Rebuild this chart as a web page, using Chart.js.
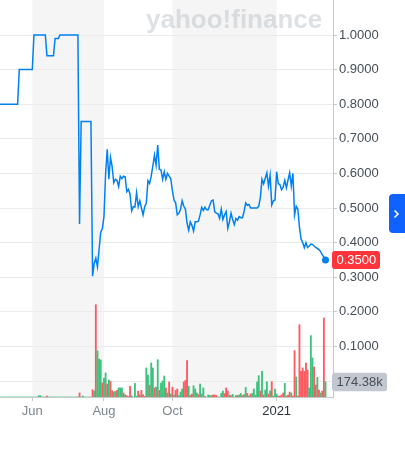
<!DOCTYPE html>
<html><head><meta charset="utf-8">
<script src="https://cdn.jsdelivr.net/npm/chart.js@4"></script>
<style>
html,body{margin:0;padding:0;background:#fff;}
#wrap{position:relative;width:405px;height:450px;}
#btn{position:absolute;left:389px;top:194px;width:16px;height:39px;background:#0f62fe;border-radius:4px 0 0 4px;}
</style></head><body>
<div id="wrap"><canvas id="c" width="405" height="450"></canvas>
<div id="btn"><svg width="16" height="39"><polyline points="5.5,16.5 9,20 5.5,23.5" fill="none" stroke="#fff" stroke-width="1.6"/></svg></div></div>
<script>
// Daily closing price (trading days, ~May 1 2020 .. Feb 17 2021)
const price = [
0.80,0.80,0.80,0.80,0.80,0.80,0.80,0.80,0.80,0.80,0.80,0.80,
0.90,0.90,0.90,0.90,0.90,0.90,0.90,0.90,0.90,
1.00,1.00,1.00,1.00,1.00,1.00,1.00,1.00,
0.94,0.94,0.94,0.94,0.94,
0.99,0.99,0.99,
1.00,1.00,1.00,1.00,1.00,1.00,1.00,1.00,1.00,1.00,1.00,1.00,
0.454,
0.75,0.75,0.75,0.75,0.75,0.75,0.75,
0.303,0.34,0.355,0.33,0.38,0.43,0.44,0.475,0.60,0.67,
0.583,0.646,0.62,0.573,0.583,0.58,0.562,0.592,0.585,0.592,
0.59,0.547,0.554,0.54,0.492,0.504,0.503,0.544,0.504,0.521,
0.50,0.48,0.504,0.514,0.579,0.571,0.592,0.621,0.653,0.624,
0.682,0.612,0.61,0.583,0.605,0.583,0.60,0.592,0.585,0.55,
0.523,0.515,0.48,0.485,0.496,0.521,0.505,0.497,0.456,0.436,
0.46,0.45,0.433,0.46,0.46,0.462,0.48,0.502,0.493,0.502,
0.495,0.495,0.509,0.521,0.523,0.489,0.485,0.483,0.47,0.497,
0.467,0.48,0.49,0.441,0.46,0.485,0.467,0.452,0.47,0.465,
0.475,0.472,0.472,0.49,0.515,0.508,0.51,0.50,0.50,0.50,
0.50,0.50,0.505,0.53,0.583,0.57,0.586,0.602,0.563,0.595,
0.509,0.521,0.523,0.605,0.57,0.568,0.553,0.56,0.58,0.558,
0.581,0.602,0.563,0.60,0.48,0.505,0.497,0.445,0.41,0.40,
0.385,0.40,0.386,0.39,0.396,0.395,0.39,0.386,0.383,0.38,
0.374,0.365,0.358,0.35
];
// Daily volume, thousands of shares
const volume = [
0,0,0,0,0,0,0,0,0,0,
0,0,0,0,0,0,0,0,0,0,
0,0,0,0,15,15,0,0,0,11,
0,0,0,0,0,0,0,0,0,0,
0,0,0,0,0,0,0,0,0,46,
0,11,0,0,0,0,0,83,68,1052,
528,433,422,160,217,274,148,194,178,72,
60,64,75,103,103,103,46,26,15,5,
121,15,0,155,10,68,26,75,26,8,
331,251,137,388,331,103,114,425,75,160,
182,239,103,46,171,34,114,23,75,91,
15,57,91,171,189,414,121,18,34,129,
91,46,29,148,34,103,6,0,23,17,
17,23,23,17,0,0,40,68,40,103,
68,23,17,29,0,17,17,23,40,17,
29,109,41,11,34,40,91,23,171,243,
68,292,23,80,174,34,68,174,11,91,
34,11,11,23,46,155,11,23,57,46,
11,528,228,11,824,292,331,292,388,308,
103,699,445,342,137,223,80,46,68,901,
174.38
];
// u = up day (green), d = down day (red)
const volumeDirection = (
'uuuuuuuuuu uuuuuuuuuu uuuuuuuuud uuuuuuuuuu uuuuuuuuud ' +
'uuuuuuudud uuuduududd uuduuududd duuuududdd uuduuduudu ' +
'uududududd uuuddduddu uuduuuduuu uddduuuudd duduuuduud ' +
'uududuuuuu duduududuu uddddudddu dduddddddd uuuddududd u'
).replace(/ /g,'').split('');

// x-axis month labels at trading-day index
const xTickIndex = [20, 64, 106, 170];
const xTickLabels = ['Jun', 'Aug', 'Oct', '2021'];
const shadedRanges = [[20, 64], [106, 170]];
const priceTicks = [0, 0.1, 0.2, 0.3, 0.4, 0.5, 0.6, 0.7, 0.8, 0.9, 1.0];

const FONT = '"Liberation Sans", Arial, Helvetica, sans-serif';
const GREEN = '#3cc27d', RED = '#ff5a60';

const bgPlugin = {
  id: 'bg',
  beforeDraw(ch) {
    const {ctx, chartArea: a, scales: {x}} = ch;
    ctx.save();
    ctx.fillStyle = '#f5f5f5';
    shadedRanges.forEach(([s, e]) => {
      const x0 = x.getPixelForValue(s), x1 = x.getPixelForValue(e);
      ctx.fillRect(x0, a.top, x1 - x0, a.bottom - a.top);
    });
    ctx.font = 'bold 26px ' + FONT;
    ctx.fillStyle = 'rgba(190,195,202,0.5)';
    ctx.textBaseline = 'alphabetic';
    ctx.textAlign = 'left';
    ctx.fillText('yahoo!finance', 146, 28);
    ctx.restore();
  }
};

function rrect(ctx, x, y, w, h, r) {
  ctx.beginPath();
  ctx.moveTo(x + r, y);
  ctx.lineTo(x + w - r, y); ctx.quadraticCurveTo(x + w, y, x + w, y + r);
  ctx.lineTo(x + w, y + h - r); ctx.quadraticCurveTo(x + w, y + h, x + w - r, y + h);
  ctx.lineTo(x + r, y + h); ctx.quadraticCurveTo(x, y + h, x, y + h - r);
  ctx.lineTo(x, y + r); ctx.quadraticCurveTo(x, y, x + r, y);
  ctx.closePath();
}

const labelPlugin = {
  id: 'lastLabels',
  afterDraw(ch) {
    const {ctx, chartArea: a, scales: {y, yv}} = ch;
    ctx.save();
    ctx.font = '13px ' + FONT;
    ctx.textBaseline = 'middle';
    ctx.textAlign = 'left';
    const lastV = volume[volume.length - 1];
    const vy = yv.getPixelForValue(lastV);
    rrect(ctx, a.right - 1, vy - 9, 55, 18.5, 3);
    ctx.fillStyle = '#c3c7cf';
    ctx.fill();
    ctx.fillStyle = '#464e56';
    ctx.fillText(lastV.toFixed(2) + 'k', a.right + 3.5, vy + 0.5);
    const lastP = price[price.length - 1];
    const py = y.getPixelForValue(lastP);
    rrect(ctx, a.right - 1, py - 9, 48, 18, 3);
    ctx.fillStyle = '#ff333a';
    ctx.fill();
    ctx.fillStyle = '#ffffff';
    ctx.fillText(lastP.toFixed(4), a.right + 3.5, py + 0.5);
    ctx.restore();
  }
};

new Chart(document.getElementById('c'), {
  type: 'bar',
  data: {
    datasets: [
      {
        type: 'line',
        data: price.map((v, i) => ({x: i, y: v})),
        yAxisID: 'y',
        borderColor: '#0081f2',
        borderWidth: 1.5,
        tension: 0,
        pointRadius: c => c.dataIndex === price.length - 1 ? 3.5 : 0,
        pointBackgroundColor: '#0081f2',
        pointBorderWidth: 0,
        order: 0
      },
      {
        type: 'bar',
        data: volume.map((v, i) => ({x: i, y: v})),
        yAxisID: 'yv',
        backgroundColor: volumeDirection.map(d => d === 'u' ? GREEN : RED),
        barThickness: 1.2,
        borderWidth: 0,
        order: 1
      }
    ]
  },
  options: {
    responsive: false,
    animation: false,
    events: [],
    layout: {padding: 0, autoPadding: false},
    plugins: {legend: {display: false}, tooltip: {enabled: false}},
    scales: {
      x: {
        type: 'linear', min: 0.17, max: 204.6, offset: false,
        afterBuildTicks: s => { s.ticks = xTickIndex.map(v => ({value: v})); },
        afterFit: s => { s.height = 53; s.paddingLeft = 0; s.paddingRight = 0; },
        grid: {drawOnChartArea: false, drawTicks: true, tickLength: 4, tickColor: '#c8c8c8', offset: false},
        border: {display: true, color: '#c8c8c8'},
        ticks: {
          autoSkip: false, maxRotation: 0, padding: 3,
          font: {family: FONT, size: 13},
          color: c => (c.tick && c.tick.value === 170) ? '#2c3338' : '#7f868e',
          callback: v => xTickLabels[xTickIndex.indexOf(v)]
        }
      },
      y: {
        position: 'right', min: -0.0462, max: 1.1012,
        afterBuildTicks: s => { s.ticks = priceTicks.map(v => ({value: v})); },
        afterFit: s => { s.width = 72; s.paddingTop = 0; s.paddingBottom = 0; },
        grid: {color: '#ebebeb', tickLength: 4, tickColor: '#c8c8c8'},
        border: {display: true, color: '#c8c8c8'},
        ticks: {
          padding: 2, font: {family: FONT, size: 13}, color: '#464e56',
          callback: v => v < 0.05 ? '' : v.toFixed(4)
        }
      },
      yv: {display: false, min: 0, max: 4525,
        afterFit: s => { s.paddingTop = 0; s.paddingBottom = 0; } }
    }
  },
  plugins: [bgPlugin, labelPlugin]
});
</script>
</body></html>
